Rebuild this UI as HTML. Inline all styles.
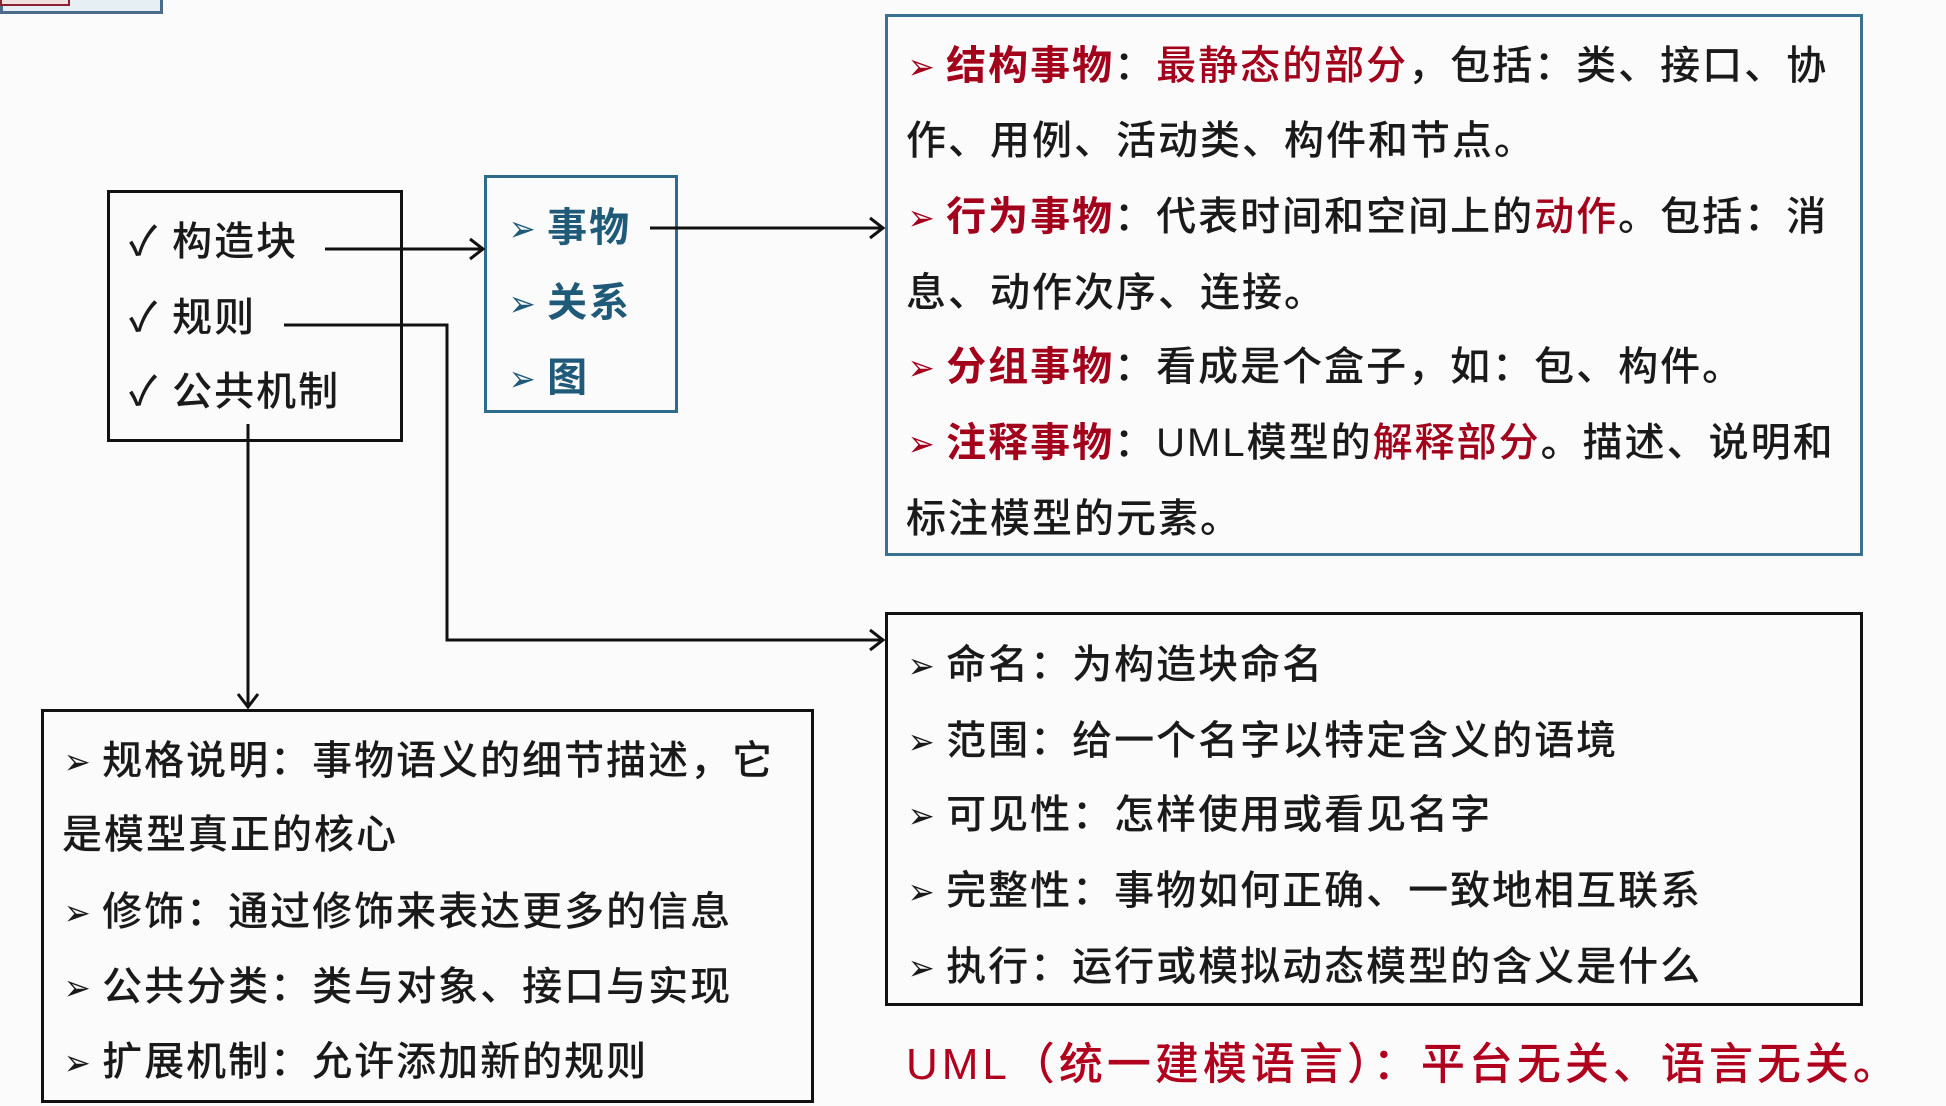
<!DOCTYPE html>
<html><head><meta charset="utf-8"><style>
html,body{margin:0;padding:0;background:#fbfbfb;}
body{width:1946px;height:1106px;position:relative;overflow:hidden;font-family:"Liberation Sans","Noto Sans CJK SC",sans-serif;color:#1a1a1a;}
.box{position:absolute;box-sizing:border-box;}
.t{position:absolute;white-space:nowrap;font-size:40px;letter-spacing:2px;line-height:50px;height:50px;font-weight:500;}
.r{color:#a3001c;font-weight:bold;}
.rr{color:#a3001c;}
.ar{font-family:"DejaVu Sans",sans-serif;font-size:36px;margin-right:8px;display:inline-block;transform:scaleX(0.9);}
.bl{color:#1f5a78;font-weight:bold;}
</style></head><body>
<div class="box" style="left:0;top:0;width:163px;height:14px;border:3px solid #4a6b8a;border-top:none;background:#e6f0f4"></div>
<div class="box" style="left:0;top:0;width:70px;height:6px;border:2px solid #8a2030;border-top:none;background:#f0e0e0"></div>

<div class="box" style="left:107px;top:190px;width:296px;height:252px;border:3px solid #111"></div>
<div class="box" style="left:484px;top:175px;width:194px;height:238px;border:3px solid #2e6b8c"></div>
<div class="box" style="left:885px;top:14px;width:978px;height:542px;border:3px solid #3a7090"></div>
<div class="box" style="left:885px;top:612px;width:978px;height:394px;border:3px solid #111"></div>
<div class="box" style="left:41px;top:709px;width:773px;height:394px;border:3px solid #111"></div>

<svg width="1946" height="1106" style="position:absolute;left:0;top:0" fill="none" stroke="#111" stroke-width="3">
<path d="M325 249 H482 M470 239 L483 249 L470 259"/>
<path d="M650 228 H882 M870 218 L883 228 L870 238"/>
<path d="M284 325 H447 V640 H882 M870 630 L883 640 L870 650"/>
<path d="M248 424 V706 M238 694 L248 707 L258 694"/>
</svg>

<div class="t" style="left:129px;top:217px">✓ 构造块</div>
<div class="t" style="left:129px;top:293px">✓ 规则</div>
<div class="t" style="left:129px;top:367px">✓ 公共机制</div>

<div class="t bl" style="left:507px;top:203px"><span class="ar">➢</span>事物</div>
<div class="t bl" style="left:507px;top:278px"><span class="ar">➢</span>关系</div>
<div class="t bl" style="left:507px;top:353px"><span class="ar">➢</span>图</div>

<div class="t" style="left:906px;top:41px"><span class="ar rr">➢</span><span class="r">结构事物</span>：<span class="rr">最静态的部分</span>，包括：类、接口、协</div>
<div class="t" style="left:906px;top:116px">作、用例、活动类、构件和节点。</div>
<div class="t" style="left:906px;top:192px"><span class="ar rr">➢</span><span class="r">行为事物</span>：代表时间和空间上的<span class="rr">动作</span>。包括：消</div>
<div class="t" style="left:906px;top:268px">息、动作次序、连接。</div>
<div class="t" style="left:906px;top:342px"><span class="ar rr">➢</span><span class="r">分组事物</span>：看成是个盒子，如：包、构件。</div>
<div class="t" style="left:906px;top:418px"><span class="ar rr">➢</span><span class="r">注释事物</span>：UML模型的<span class="rr">解释部分</span>。描述、说明和</div>
<div class="t" style="left:906px;top:494px">标注模型的元素。</div>

<div class="t" style="left:906px;top:640px"><span class="ar">➢</span>命名：为构造块命名</div>
<div class="t" style="left:906px;top:716px"><span class="ar">➢</span>范围：给一个名字以特定含义的语境</div>
<div class="t" style="left:906px;top:790px"><span class="ar">➢</span>可见性：怎样使用或看见名字</div>
<div class="t" style="left:906px;top:866px"><span class="ar">➢</span>完整性：事物如何正确、一致地相互联系</div>
<div class="t" style="left:906px;top:942px"><span class="ar">➢</span>执行：运行或模拟动态模型的含义是什么</div>

<div class="t" style="left:62px;top:736px"><span class="ar">➢</span>规格说明：事物语义的细节描述，它</div>
<div class="t" style="left:62px;top:810px">是模型真正的核心</div>
<div class="t" style="left:62px;top:887px"><span class="ar">➢</span>修饰：通过修饰来表达更多的信息</div>
<div class="t" style="left:62px;top:962px"><span class="ar">➢</span>公共分类：类与对象、接口与实现</div>
<div class="t" style="left:62px;top:1037px"><span class="ar">➢</span>扩展机制：允许添加新的规则</div>

<div class="t" style="left:906px;top:1040px;font-size:44px;color:#b0001e;letter-spacing:4px">UML（统一建模语言）：平台无关、语言无关。</div>
</body></html>
